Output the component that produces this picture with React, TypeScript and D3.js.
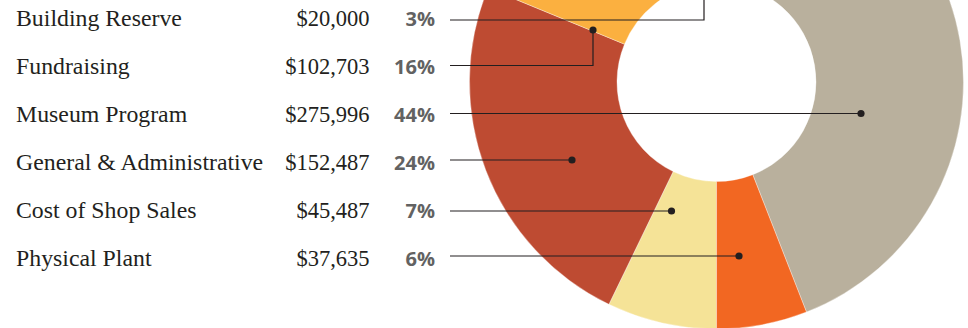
import React from "react";
import * as d3 from "d3";

const categories = [
  "Building Reserve",
  "Fundraising",
  "Museum Program",
  "General & Administrative",
  "Cost of Shop Sales",
  "Physical Plant",
];
const amounts = [20000, 102703, 275996, 152487, 45487, 37635];
const percentLabels = ["3%", "16%", "44%", "24%", "7%", "6%"];
const sliceColors = ["#8c3b26", "#FBB040", "#B9B09D", "#BE4B32", "#F5E397", "#F26722"];
// clockwise order of slices starting at the bottom of the ring
const ringOrder = [4, 3, 1, 0, 2, 5];
// leader annotation anchors (row line y, elbow/dot x, dot y)
const leaderY = [20, 65.5, 113.5, 160, 211, 256];
const dotX = [704, 593, 861, 572, 671.5, 739];
const dotY = [-90, 30, 113.5, 160, 211, 256];

const W = 968;
const H = 328;
const cx = 716.5;
const cy = 82;
const innerR = 99.5;
const outerR = 247;

export default function App() {
  const ringData = ringOrder.map((i) => ({ i, v: amounts[i] }));
  const pie = d3
    .pie<{ i: number; v: number }>()
    .sort(null)
    .value((d) => d.v)
    .startAngle(Math.PI)
    .endAngle(3 * Math.PI);
  const arcs = pie(ringData);
  const arcGen = d3
    .arc<d3.PieArcDatum<{ i: number; v: number }>>()
    .innerRadius(innerR)
    .outerRadius(outerR);

  const fmt = (n: number) => "$" + d3.format(",")(n);
  const rowY = d3.scaleLinear().domain([0, 1]).range([26, 74]);

  return (
    <svg
      width={W}
      height={H}
      style={{ position: "absolute", left: 0, top: 0, background: "#fff" }}
    >
      <g transform={`translate(${cx},${cy})`}>
        {arcs.map((a) => (
          <path
            key={a.data.i}
            d={arcGen(a) || ""}
            fill={sliceColors[a.data.i]}
            stroke="#fff"
            strokeWidth={0.5}
            strokeOpacity={0.7}
          />
        ))}
      </g>
      {categories.map((c, i) => {
        const y = rowY(i);
        const ly = leaderY[i];
        const elbow = Math.abs(dotY[i] - ly) > 0.5;
        const d = elbow
          ? `M450,${ly}H${dotX[i]}V${dotY[i]}`
          : `M450,${ly}H${dotX[i]}`;
        return (
          <g key={c}>
            <text
              x={16}
              y={y}
              fontFamily="'Liberation Serif', 'DejaVu Serif', serif"
              fontSize={23.8}
              fill="#231F20"
            >
              {c}
            </text>
            <text
              x={369.5}
              y={y}
              textAnchor="end"
              fontFamily="'Liberation Serif', 'DejaVu Serif', serif"
              fontSize={22.5}
              fill="#231F20"
            >
              {fmt(amounts[i])}
            </text>
            <text
              x={435}
              y={y - 0.5}
              textAnchor="end"
              fontFamily="'Open Sans', 'DejaVu Sans', sans-serif"
              fontWeight="bold"
              fontSize={20}
              fill="#626262"
            >
              {percentLabels[i]}
            </text>
            <path d={d} fill="none" stroke="#231F20" strokeWidth={1.2} />
            <circle cx={dotX[i]} cy={dotY[i]} r={3.6} fill="#231F20" />
          </g>
        );
      })}
    </svg>
  );
}
